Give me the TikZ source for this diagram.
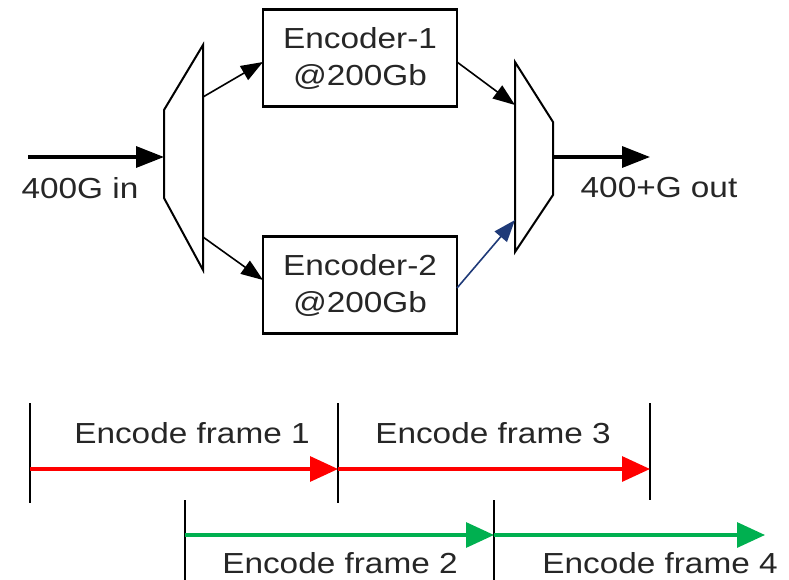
\documentclass[tikz,border=0pt]{standalone}
\usepackage{fontspec}
\setmainfont[FakeStretch=1.15]{Liberation Sans}
\usetikzlibrary{arrows.meta}
\definecolor{navy}{HTML}{1F3A78}
\definecolor{fgreen}{HTML}{00B050}
\begin{document}
\begin{tikzpicture}[x=1pt,y=-1pt,
  txt/.style={font=\fontsize{29}{37}\selectfont, text=black!85, inner sep=0pt},
  enc/.style={draw, line width=2.2pt, align=center, minimum width=194pt, minimum height=97pt, txt},
  muxline/.style={draw, line width=2pt, line join=miter},
  bigarr/.style={line width=3.4pt, -{Triangle[length=28pt,width=21pt]}},
  smallarr/.style={line width=1.6pt, -{Triangle[length=22pt,width=16pt]}},
  frarr/.style={line width=3.2pt, -{Triangle[length=28pt,width=25pt]}},
  tickline/.style={line width=1.6pt}]
\useasboundingbox (0,0) rectangle (789,580);
% encoders
\node[enc] (e1) at (360,58) {Encoder-1\\@200Gb};
\node[enc] (e2) at (360,285) {Encoder-2\\@200Gb};
% demux
\coordinate (d1) at (164,110); \coordinate (d2) at (203,45);
\coordinate (d3) at (203,270); \coordinate (d4) at (164,198);
\draw[muxline] (d1) -- (d2) -- (d3) -- (d4) -- cycle;
% mux
\coordinate (m1) at (515,62); \coordinate (m2) at (553,122);
\coordinate (m3) at (553,195); \coordinate (m4) at (515,252);
\draw[muxline] (m1) -- (m2) -- (m3) -- (m4) -- cycle;
% input / output
\coordinate (in) at (28,157); \coordinate (din) at (164,157);
\draw[bigarr] (in) -- (din);
\node[txt] (inl) at (80,188) {400G in};
\coordinate (mout) at (553,157); \coordinate (out) at (650,157);
\draw[bigarr] (mout) -- (out);
\node[txt] (outl) at (659,188) {400+G out};
% internal connectors
\coordinate (dt) at (203,97); \coordinate (db) at (203,237);
\coordinate (e1in) at (263,62); \coordinate (e2in) at (263,280);
\coordinate (e1out) at (457,62); \coordinate (e2out) at (457,288);
\draw[smallarr] (dt) -- (e1in);
\draw[smallarr] (db) -- (e2in);
\coordinate (mt) at (515,105); \coordinate (mb) at (515,220);
\draw[smallarr] (e1out) -- (mt);
\draw[smallarr, navy] (e2out) -- (mb);
% timeline ticks
\coordinate (t1a) at (30,403); \coordinate (t1b) at (30,503);
\coordinate (t2a) at (338,403); \coordinate (t2b) at (338,503);
\coordinate (t3a) at (650,403); \coordinate (t3b) at (650,500);
\coordinate (g1a) at (185,500); \coordinate (g1b) at (185,580);
\coordinate (g2a) at (494,500); \coordinate (g2b) at (494,580);
\draw[tickline] (t1a) -- (t1b); \draw[tickline] (t2a) -- (t2b); \draw[tickline] (t3a) -- (t3b);
\draw[tickline] (g1a) -- (g1b); \draw[tickline] (g2a) -- (g2b);
% frame arrows
\coordinate (r0) at (30,469); \coordinate (r1) at (338,469); \coordinate (r2) at (650,469);
\draw[frarr, red] (r0) -- (r1);
\draw[frarr, red] (r1) -- (r2);
\coordinate (q0) at (185,535); \coordinate (q1) at (494,535); \coordinate (q2) at (765,535);
\draw[frarr, fgreen] (q0) -- (q1);
\draw[frarr, fgreen] (q1) -- (q2);
% labels
\node[txt] (f1) at (192,433) {Encode frame 1};
\node[txt] (f3) at (493,433) {Encode frame 3};
\node[txt] (f2) at (340,563) {Encode frame 2};
\node[txt] (f4) at (660,563) {Encode frame 4};
\end{tikzpicture}
\end{document}
